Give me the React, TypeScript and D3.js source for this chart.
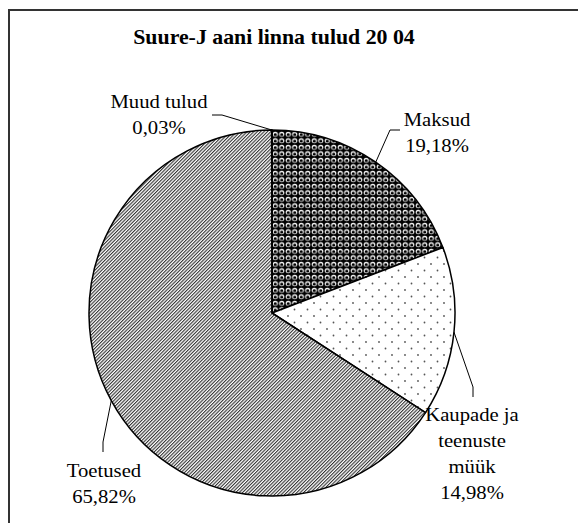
import React from "react";
import * as d3 from "d3";

// Suure-Jaani linna tulud 2004 (osakaal, %)
const categories = ["Maksud", "Kaupade ja teenuste müük", "Toetused", "Muud tulud"];
const shares = [19.18, 14.98, 65.82, 0.03];
const labelLines = [["Maksud"], ["Kaupade ja", "teenuste", "müük"], ["Toetused"], ["Muud tulud"]];
const fills = ["url(#sphere)", "url(#dots)", "url(#hatch)", "#ffffff"];

// label placement: text centre, first baseline, leader knee + end
const labelPos = [
  { x: 437, y: 126, knee: [390, 130], end: [400, 130] },
  { x: 472, y: 421, knee: [473, 387], end: [473, 397] },
  { x: 104, y: 477, knee: [103, 442], end: [103, 452] },
  { x: 159, y: 108, knee: [222, 115], end: [212, 115] },
];

const W = 578, H = 523;
const cx = 272, cy = 313, R = 183;
const lineH = 26;
const font = "Liberation Serif";

const fmtPct = (v: number) => d3.format(".2f")(v).replace(".", ",") + "%";

export default function App() {
  const data = categories.map((c, i) => ({ name: c, value: shares[i], i }));
  const pie = d3.pie<{ name: string; value: number; i: number }>().sort(null).value(d => d.value);
  const arcs = pie(data);
  const arc = d3.arc<d3.PieArcDatum<{ name: string; value: number; i: number }>>().innerRadius(0).outerRadius(R);
  const edge = d3.arc<d3.PieArcDatum<{ name: string; value: number; i: number }>>().innerRadius(R).outerRadius(R);

  return (
    <svg width={W} height={H} style={{ position: "absolute", left: 0, top: 0, background: "#fff" }}>
      <defs>
        <pattern id="sphere" width={6.5} height={6.5} patternUnits="userSpaceOnUse">
          <rect width={6.5} height={6.5} fill="#000" />
          <circle cx={3.25} cy={3.25} r={2.6} fill="#fff" />
          <circle cx={3.25} cy={3.6} r={1.6} fill="#000" />
        </pattern>
        <pattern id="dots" width={13} height={13} patternUnits="userSpaceOnUse">
          <rect width={13} height={13} fill="#fff" />
          <circle cx={3} cy={3} r={0.9} fill="#555" />
          <circle cx={9.5} cy={9.5} r={0.9} fill="#555" />
        </pattern>
        <pattern id="hatch" width={2.4} height={10} patternUnits="userSpaceOnUse" patternTransform="rotate(45)">
          <rect width={2.4} height={10} fill="#fff" />
          <rect width={1.1} height={10} fill="#333" />
        </pattern>
      </defs>

      {/* frame */}
      <rect x={9} y={10} width={W + 20} height={H + 20} fill="none" stroke="#333" strokeWidth={2} />

      <text
        transform={`translate(${274},${44}) scale(1.04,1)`}
        textAnchor="middle"
        style={{ fontFamily: font }}
        fontWeight="bold"
        fontSize={21}
        fill="#000"
      >
        Suure-J aani linna tulud 20 04
      </text>

      <g transform={`translate(${cx},${cy})`}>
        {arcs.map(a => (
          <path key={a.data.name} d={arc(a) || ""} fill={fills[a.data.i]} stroke="#000" strokeWidth={1.5} strokeLinejoin="round" />
        ))}
      </g>

      {arcs.map(a => {
        const p = edge.centroid(a);
        const l = labelPos[a.data.i];
        const pts = [[cx + p[0], cy + p[1]], l.knee, l.end];
        return (
          <polyline
            key={"l" + a.data.name}
            points={pts.map(q => q.join(",")).join(" ")}
            fill="none"
            stroke="#000"
            strokeWidth={1}
          />
        );
      })}

      {arcs.map(a => {
        const l = labelPos[a.data.i];
        const lines = [...labelLines[a.data.i], fmtPct(a.data.value)];
        return lines.map((t, j) => (
          <text
            key={a.data.name + j}
            transform={`translate(${l.x},${l.y + j * lineH}) scale(1.15,1)`}
            textAnchor="middle"
            style={{ fontFamily: font }}
            fontSize={18}
            fill="#000"
          >
            {t}
          </text>
        ));
      })}
    </svg>
  );
}
